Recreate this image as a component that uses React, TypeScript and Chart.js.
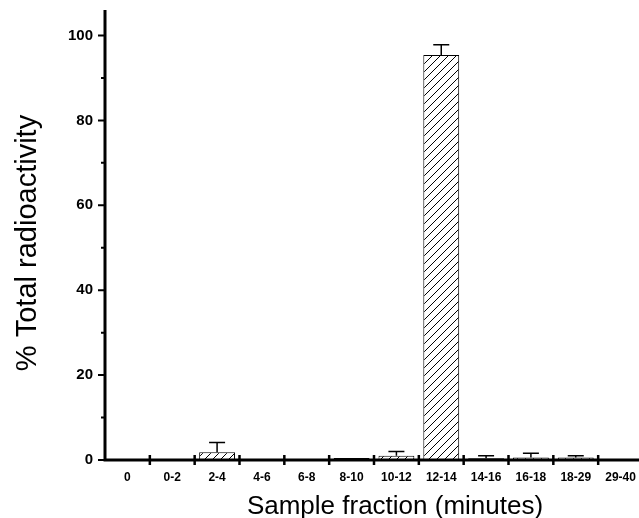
import React, { useEffect, useRef } from "react";
import { Chart, registerables } from "chart.js";

Chart.register(...registerables);

const categories = ["0", "0-2", "2-4", "4-6", "6-8", "8-10", "10-12", "12-14", "14-16", "16-18", "18-29", "29-40"];
const values = [0, 0, 1.8, 0.2, 0.15, 0.5, 1.0, 95.4, 0.4, 0.6, 0.6, 0.15];
const errors = [0, 0, 2.3, 0, 0, 0, 1.0, 2.4, 0.6, 1.0, 0.4, 0];
const yMajorTicks = [0, 20, 40, 60, 80, 100];
const yMinorTicks = [10, 30, 50, 70, 90];
const xTitle = "Sample fraction (minutes)";
const yTitle = "% Total radioactivity";

const FONT = "'Liberation Sans', Arial, sans-serif";

function makeHatch(): CanvasPattern | string {
  const c = document.createElement("canvas");
  const s = 8;
  c.width = s;
  c.height = s;
  const g = c.getContext("2d");
  if (!g) return "#fff";
  g.fillStyle = "#fff";
  g.fillRect(0, 0, s, s);
  g.strokeStyle = "#000";
  g.lineWidth = 1;
  g.beginPath();
  g.moveTo(0, s);
  g.lineTo(s, 0);
  g.moveTo(-2, 2);
  g.lineTo(2, -2);
  g.moveTo(s - 2, s + 2);
  g.lineTo(s + 2, s - 2);
  g.stroke();
  const p = g.createPattern(c, "repeat");
  return p || "#fff";
}

const axesPlugin = {
  id: "axesAndErrors",
  afterDatasetsDraw(chart: any) {
    const ctx = chart.ctx;
    const x = chart.scales.x;
    const y = chart.scales.y;
    const area = chart.chartArea;
    ctx.save();
    // error bars (upper only)
    ctx.strokeStyle = "#000";
    ctx.lineWidth = 1.5;
    values.forEach((v, i) => {
      const e = errors[i];
      if (!e) return;
      const px = x.getPixelForValue(i);
      const top = y.getPixelForValue(v);
      const end = y.getPixelForValue(v + e);
      ctx.beginPath();
      ctx.moveTo(px, top);
      ctx.lineTo(px, end);
      ctx.moveTo(px - 8, end);
      ctx.lineTo(px + 8, end);
      ctx.stroke();
    });
    // axes
    const y0 = y.getPixelForValue(0);
    ctx.lineWidth = 3;
    ctx.beginPath();
    ctx.moveTo(area.left, area.top);
    ctx.lineTo(area.left, y0 + 1.5);
    ctx.moveTo(area.left - 1.5, y0);
    ctx.lineTo(chart.width, y0);
    ctx.stroke();
    // y ticks
    ctx.lineWidth = 2;
    ctx.beginPath();
    yMajorTicks.forEach((t) => {
      const py = y.getPixelForValue(t);
      ctx.moveTo(area.left - 7, py);
      ctx.lineTo(area.left, py);
    });
    yMinorTicks.forEach((t) => {
      const py = y.getPixelForValue(t);
      ctx.moveTo(area.left - 4, py);
      ctx.lineTo(area.left, py);
    });
    ctx.stroke();
    // x ticks at category boundaries
    ctx.lineWidth = 2.5;
    ctx.beginPath();
    for (let i = 1; i < categories.length; i++) {
      const pb = (x.getPixelForValue(i - 1) + x.getPixelForValue(i)) / 2;
      ctx.moveTo(pb, y0 - 5);
      ctx.lineTo(pb, y0 + 5);
    }
    ctx.stroke();
    // axis titles
    ctx.fillStyle = "#000";
    ctx.textAlign = "center";
    ctx.textBaseline = "alphabetic";
    ctx.font = `26px ${FONT}`;
    ctx.fillText(xTitle, 395, 514);
    ctx.save();
    ctx.translate(36, 243);
    ctx.rotate(-Math.PI / 2);
    ctx.font = `29px ${FONT}`;
    ctx.fillText(yTitle, 0, 0);
    ctx.restore();
    ctx.restore();
  },
};

export default function App() {
  const ref = useRef<HTMLCanvasElement | null>(null);
  useEffect(() => {
    if (!ref.current) return;
    const hatch = makeHatch();
    const chart = new Chart(ref.current, {
      type: "bar",
      data: {
        labels: categories,
        datasets: [
          {
            data: values,
            backgroundColor: hatch as any,
            borderColor: "#000",
            borderWidth: 1,
            borderSkipped: false,
            barPercentage: 0.8,
            categoryPercentage: 1,
          },
        ],
      },
      options: {
        responsive: false,
        animation: false,
        devicePixelRatio: 1,
        layout: { padding: { top: 10, right: 0, left: 0, bottom: 0 } },
        plugins: { legend: { display: false }, tooltip: { enabled: false } },
        scales: {
          x: {
            type: "category",
            offset: true,
            grid: { display: false, drawTicks: false },
            border: { display: false },
            ticks: {
              color: "#000",
              padding: 10,
              maxRotation: 0,
              autoSkip: false,
              font: { family: FONT, size: 12, weight: "bold" },
            },
            afterFit: (s: any) => {
              s.height = 58;
              s.paddingLeft = 0;
              s.paddingRight = 0;
            },
          },
          y: {
            min: 0,
            max: 106,
            grid: { display: false, drawTicks: false },
            border: { display: false },
            afterBuildTicks: (s: any) => {
              s.ticks = yMajorTicks.map((v) => ({ value: v }));
            },
            ticks: {
              color: "#000",
              padding: 12,
              font: { family: FONT, size: 15, weight: "bold" },
            },
            afterFit: (s: any) => {
              s.width = 105;
              s.paddingTop = 0;
              s.paddingBottom = 0;
            },
          },
        },
      },
      plugins: [axesPlugin],
    });
    return () => chart.destroy();
  }, []);
  return (
    <div style={{ position: "absolute", left: 0, top: 0, width: 639, height: 518, overflow: "hidden", background: "#fff" }}>
      <canvas ref={ref} width={643} height={518} style={{ display: "block" }} />
    </div>
  );
}
